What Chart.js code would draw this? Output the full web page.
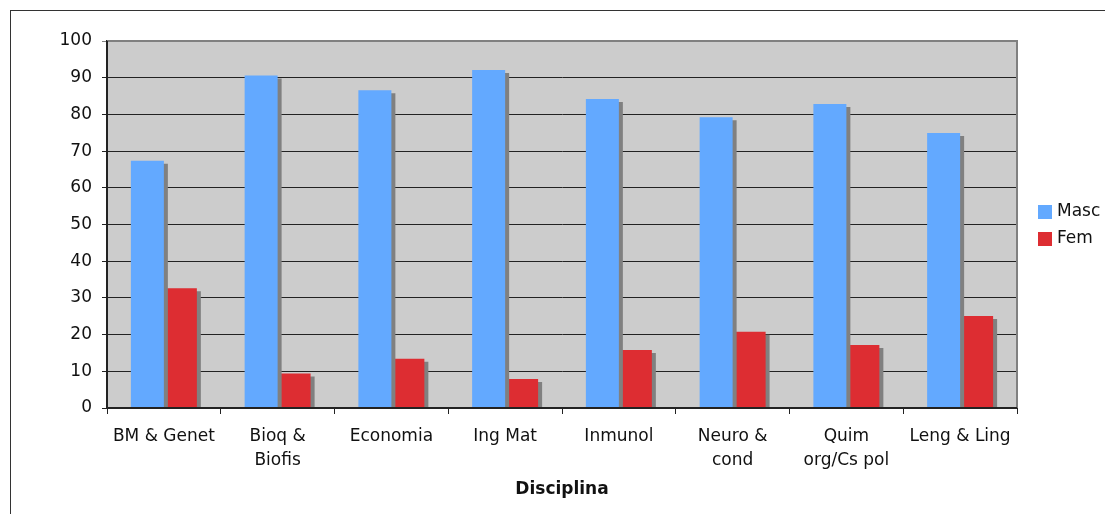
<!DOCTYPE html>
<html>
<head>
<meta charset="utf-8">
<script src="https://cdn.jsdelivr.net/npm/chart.js@4/dist/chart.umd.min.js"></script>
<style>
  html, body { margin: 0; padding: 0; background: #fff; }
  #wrap { position: relative; width: 1105px; height: 514px; }
</style>
</head>
<body>
<div id="wrap"><canvas id="c" width="1105" height="514"></canvas></div>
<script>
// Share of men and women per discipline (%)
const categories = [
  'BM & Genet',
  ['Bioq &', 'Biofis'],
  'Economia',
  'Ing Mat',
  'Inmunol',
  ['Neuro &', 'cond'],
  ['Quim', 'org/Cs pol'],
  'Leng & Ling'
];
const seriesNames = ['Masc', 'Fem'];
const masc = [67.4, 90.6, 86.6, 92.1, 84.2, 79.2, 82.8, 74.9];
const fem = [32.6, 9.4, 13.4, 7.9, 15.8, 20.8, 17.2, 25.1];
const yTicks = [0, 10, 20, 30, 40, 50, 60, 70, 80, 90, 100];
const axisTitle = 'Disciplina';

const FONT = 'DejaVu Sans, Verdana, sans-serif';
const FONT_SIZE = 17;
const BLUE = '#63a9ff';
const RED = '#dd2d32';
const AXIS = '#222';

// Grey plot background and frame; axis lines redrawn over the bars
const plotBackground = {
  id: 'plotBackground',
  beforeDraw(chart) {
    const { ctx, chartArea: a } = chart;
    ctx.save();
    ctx.fillStyle = '#cccccc';
    ctx.fillRect(a.left, a.top, a.right - a.left, a.bottom - a.top);
    ctx.restore();
  },
  beforeDatasetsDraw(chart) {
    const { ctx, chartArea: a } = chart;
    ctx.save();
    ctx.strokeStyle = '#808080';
    ctx.lineWidth = 2;
    ctx.beginPath();
    ctx.moveTo(a.left, a.top);
    ctx.lineTo(a.right, a.top);
    ctx.lineTo(a.right, a.bottom);
    ctx.stroke();
    ctx.restore();
  },
  afterDatasetsDraw(chart) {
    const { ctx, chartArea: a } = chart;
    ctx.save();
    ctx.strokeStyle = AXIS;
    ctx.lineWidth = 2;
    ctx.beginPath();
    ctx.moveTo(a.left, a.top);
    ctx.lineTo(a.left, a.bottom);
    ctx.lineTo(a.right, a.bottom);
    ctx.stroke();
    ctx.restore();
  }
};

// Flat drop shadow behind each bar
const barShadow = {
  id: 'barShadow',
  beforeDatasetDraw(chart) {
    const ctx = chart.ctx;
    ctx.save();
    ctx.shadowColor = '#808080';
    ctx.shadowOffsetX = 4;
    ctx.shadowOffsetY = 3;
    ctx.shadowBlur = 0;
  },
  afterDatasetDraw(chart) {
    chart.ctx.restore();
  }
};

// Legend at the right and the outer frame
const sideLegend = {
  id: 'sideLegend',
  afterDraw(chart) {
    const { ctx } = chart;
    ctx.save();
    ctx.strokeStyle = '#333';
    ctx.lineWidth = 1;
    ctx.strokeRect(10.5, 10.5, 3000, 3000);
    ctx.font = FONT_SIZE + 'px ' + FONT;
    ctx.textBaseline = 'middle';
    ctx.textAlign = 'left';
    chart.data.datasets.forEach((ds, i) => {
      const y = 205 + i * 27;
      ctx.fillStyle = ds.backgroundColor;
      ctx.fillRect(1038, y, 14, 14);
      ctx.fillStyle = '#111';
      ctx.fillText(ds.label, 1057, y + 7);
    });
    ctx.restore();
  }
};

new Chart(document.getElementById('c'), {
  type: 'bar',
  data: {
    labels: categories,
    datasets: [
      { label: seriesNames[0], data: masc, backgroundColor: BLUE },
      { label: seriesNames[1], data: fem, backgroundColor: RED }
    ]
  },
  options: {
    responsive: false,
    animation: false,
    devicePixelRatio: 1,
    layout: { padding: { left: 0, top: 41, right: 88, bottom: 0 } },
    datasets: {
      bar: {
        categoryPercentage: 0.58,
        barPercentage: 1.0,
        borderWidth: 0,
        clip: 0
      }
    },
    plugins: {
      legend: { display: false },
      tooltip: { enabled: false }
    },
    scales: {
      x: {
        afterFit(scale) { scale.height = 106; },
        grid: {
          offset: true,
          drawOnChartArea: false,
          drawTicks: true,
          tickLength: 6,
          color: AXIS,
          lineWidth: 1
        },
        border: { display: true, color: AXIS, width: 2 },
        ticks: {
          color: '#111',
          padding: 11,
          font: { family: FONT, size: FONT_SIZE, lineHeight: '24px' }
        },
        title: {
          display: true,
          text: axisTitle,
          color: '#111',
          font: { family: FONT, size: FONT_SIZE, weight: 'bold', lineHeight: 1.2 },
          padding: { top: 0, bottom: 14 }
        }
      },
      y: {
        min: 0,
        max: 100,
        afterFit(scale) { scale.width = 107; },
        afterBuildTicks(scale) { scale.ticks = yTicks.map(v => ({ value: v })); },
        grid: {
          color: ctx => (ctx.tick && ctx.tick.value === 100 ? '#808080' : AXIS),
          lineWidth: 1,
          tickLength: 5,
          drawTicks: true
        },
        border: { display: true, color: AXIS, width: 2 },
        ticks: {
          color: '#111',
          padding: 10,
          font: { family: FONT, size: FONT_SIZE }
        }
      }
    }
  },
  plugins: [plotBackground, barShadow, sideLegend]
});
</script>
</body>
</html>
